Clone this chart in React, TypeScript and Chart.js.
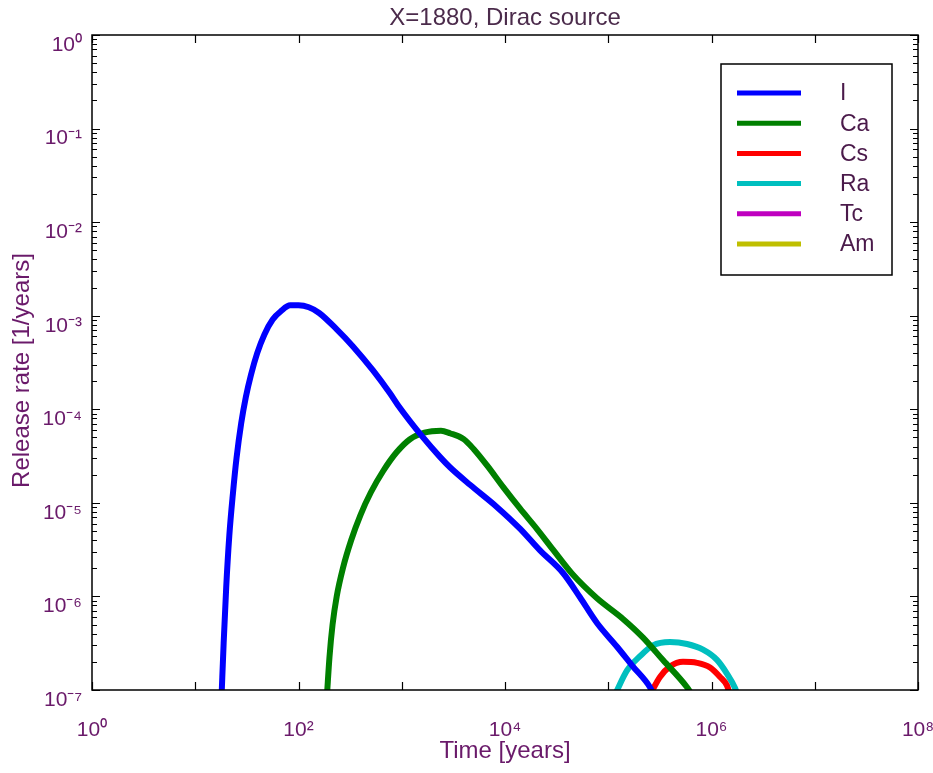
import React, { useEffect, useRef } from "react";
import { Chart, registerables } from "chart.js";

Chart.register(...registerables);

const chartTitle = "X=1880, Dirac source";
const xAxisTitle = "Time [years]";
const yAxisTitle = "Release rate [1/years]";

const seriesLabels = ["I", "Ca", "Cs", "Ra", "Tc", "Am"];
const seriesColors = ["#0000FF", "#008000", "#FF0000", "#00BFBF", "#BF00BF", "#BFBF00"];

// I
const iTime = [18.0, 18.84, 19.95, 21.38, 23.17, 25.12, 27.86, 30.9, 34.67, 39.81, 46.77, 56.23, 67.61, 83.18, 100, 125.9, 158.5, 236, 337, 527, 769, 912, 1607, 2344, 2931, 4581, 8375, 13960, 21830, 36480, 53210, 77800, 121600, 173800, 253500, 275000];
const iRate = [8.9e-8, 3.16e-7, 1.26e-6, 4.47e-6, 1.26e-5, 3.02e-5, 7.08e-5, 1.35e-4, 2.34e-4, 3.98e-4, 6.31e-4, 9.12e-4, 1.12e-3, 1.29e-3, 1.29e-3, 1.23e-3, 1.07e-3, 7.1e-4, 4.7e-4, 2.6e-4, 1.48e-4, 1.12e-4, 5.0e-5, 3.1e-5, 2.4e-5, 1.56e-5, 9.0e-6, 5.3e-6, 3.1e-6, 1.78e-6, 9.8e-7, 5.2e-7, 2.9e-7, 1.78e-7, 1.07e-7, 8.9e-8];

// Ca
const caTime = [188.8, 199.5, 213.8, 234.4, 269.2, 323.6, 398.1, 501.2, 660.7, 891.3, 1202, 1660, 2399, 2931, 3981, 5012, 6699, 9572, 13960, 20420, 29170, 45600, 77800, 139000, 217300, 338800, 579400, 647100];
const caRate = [8.9e-8, 2.24e-7, 5.01e-7, 1.0e-6, 2.0e-6, 3.98e-6, 7.41e-6, 1.29e-5, 2.19e-5, 3.47e-5, 4.79e-5, 5.62e-5, 5.89e-5, 5.55e-5, 4.8e-5, 3.72e-5, 2.51e-5, 1.48e-5, 8.71e-6, 5.25e-6, 3.16e-6, 1.7e-6, 9.55e-7, 5.75e-7, 3.63e-7, 2.09e-7, 1.07e-7, 8.9e-8];

// Cs
const csTime = [253500, 317000, 396300, 529700, 724400, 968300, 1210000, 1410000, 1510000];
const csRate = [8.9e-8, 1.38e-7, 1.78e-7, 2.0e-7, 1.95e-7, 1.74e-7, 1.38e-7, 1.12e-7, 8.9e-8];

// Ra
const raTime = [116100, 152100, 203200, 271000, 396300, 579400, 827900, 1130000, 1410000, 1690000, 1780000];
const raRate = [8.9e-8, 1.62e-7, 2.3e-7, 3.0e-7, 3.25e-7, 3.1e-7, 2.7e-7, 2.1e-7, 1.5e-7, 1.05e-7, 8.9e-8];

// Tc, Am: no visible values above 1e-7
const tcTime: number[] = [];
const tcRate: number[] = [];
const amTime: number[] = [];
const amRate: number[] = [];

const xTickValues = [1, 10, 100, 1e3, 1e4, 1e5, 1e6, 1e7, 1e8];
const xTickLabels = ["10⁰", "", "10²", "", "10⁴", "", "10⁶", "", "10⁸"];
const yTickValues = [1e-7, 1e-6, 1e-5, 1e-4, 1e-3, 1e-2, 1e-1, 1];
const yTickLabels = ["10⁻⁷", "10⁻⁶", "10⁻⁵", "10⁻⁴", "10⁻³", "10⁻²", "10⁻¹", "10⁰"];

const FONT = "'Liberation Sans', Arial, Helvetica, sans-serif";
const TEXT_COLOR = "#6a1a6a";

const toPoints = (xs: number[], ys: number[]) => xs.map((x, i) => ({ x, y: ys[i] }));

const frameTicksPlugin = {
  id: "frameTicks",
  afterDatasetsDraw(chart: any) {
    const { ctx, chartArea, scales } = chart;
    const { left, right, top, bottom } = chartArea;
    const xs = scales.x;
    const ys = scales.y;
    ctx.save();
    ctx.strokeStyle = "#000";
    ctx.lineWidth = 1.5;
    ctx.beginPath();
    ctx.rect(left, top, right - left, bottom - top);
    ctx.stroke();
    ctx.lineWidth = 1.2;
    ctx.beginPath();
    for (const v of xTickValues) {
      const px = Math.round(xs.getPixelForValue(v)) + 0.5;
      ctx.moveTo(px, bottom);
      ctx.lineTo(px, bottom - 8);
      ctx.moveTo(px, top);
      ctx.lineTo(px, top + 8);
    }
    for (let e = -7; e <= 0; e++) {
      const base = Math.pow(10, e);
      const py = Math.round(ys.getPixelForValue(base)) + 0.5;
      ctx.moveTo(left, py);
      ctx.lineTo(left + 8, py);
      ctx.moveTo(right, py);
      ctx.lineTo(right - 8, py);
      if (e < 0) {
        for (let k = 2; k <= 9; k++) {
          const pm = Math.round(ys.getPixelForValue(k * base)) + 0.5;
          ctx.moveTo(left, pm);
          ctx.lineTo(left + 5, pm);
          ctx.moveTo(right, pm);
          ctx.lineTo(right - 5, pm);
        }
      }
    }
    ctx.stroke();
    ctx.restore();
  },
};

const titlesPlugin = {
  id: "titles",
  afterDraw(chart: any) {
    const { ctx, chartArea } = chart;
    ctx.save();
    ctx.font = `24px ${FONT}`;
    ctx.fillStyle = "#4b2b4b";
    ctx.textAlign = "center";
    ctx.textBaseline = "middle";
    ctx.fillText(chartTitle, (chartArea.left + chartArea.right) / 2, 18);
    ctx.translate(22, (chartArea.top + chartArea.bottom) / 2 + 8);
    ctx.rotate(-Math.PI / 2);
    ctx.fillStyle = TEXT_COLOR;
    ctx.fillText(yAxisTitle, 0, 0);
    ctx.restore();
  },
};

const boxLegendPlugin = {
  id: "boxLegend",
  afterDraw(chart: any) {
    const { ctx, chartArea } = chart;
    const boxLeft = chartArea.right - 197;
    const boxTop = chartArea.top + 29;
    const boxW = 171;
    const boxH = 211;
    ctx.save();
    ctx.fillStyle = "#fff";
    ctx.fillRect(boxLeft, boxTop, boxW, boxH);
    ctx.strokeStyle = "#000";
    ctx.lineWidth = 1.5;
    ctx.strokeRect(boxLeft, boxTop, boxW, boxH);
    ctx.font = `23px ${FONT}`;
    ctx.textBaseline = "middle";
    ctx.textAlign = "left";
    chart.data.datasets.forEach((ds: any, i: number) => {
      const y = boxTop + 29 + i * 30.2;
      ctx.strokeStyle = ds.borderColor;
      ctx.lineWidth = 5;
      ctx.beginPath();
      ctx.moveTo(boxLeft + 16, y);
      ctx.lineTo(boxLeft + 80, y);
      ctx.stroke();
      ctx.fillStyle = "#4a1a4a";
      ctx.fillText(ds.label, boxLeft + 119, y + 1);
    });
    ctx.restore();
  },
};

export default function App() {
  const canvasRef = useRef<HTMLCanvasElement | null>(null);

  useEffect(() => {
    document.body.style.margin = "0";
    const canvas = canvasRef.current;
    if (!canvas) return;
    const seriesTimes = [iTime, caTime, csTime, raTime, tcTime, amTime];
    const seriesRates = [iRate, caRate, csRate, raRate, tcRate, amRate];
    const chart = new Chart(canvas, {
      type: "line",
      data: {
        datasets: seriesLabels.map((label, i) => ({
          label,
          data: toPoints(seriesTimes[i], seriesRates[i]),
          borderColor: seriesColors[i],
          backgroundColor: seriesColors[i],
          borderWidth: 6,
          pointRadius: 0,
          fill: false,
          tension: 0,
          cubicInterpolationMode: "monotone" as const,
          clip: 0,
        })),
      },
      options: {
        responsive: false,
        animation: false,
        devicePixelRatio: 1,
        layout: { padding: { left: 0, right: 15, top: 35, bottom: 0 } },
        plugins: {
          legend: { display: false },
          tooltip: { enabled: false },
          title: { display: false },
        },
        scales: {
          x: {
            type: "logarithmic",
            min: 1,
            max: 1e8,
            grid: { display: false, drawTicks: false },
            border: { display: false },
            afterBuildTicks: (scale: any) => {
              scale.ticks = xTickValues.map((v) => ({ value: v }));
            },
            afterFit: (scale: any) => {
              scale.height = 83;
              scale.paddingLeft = 0;
              scale.paddingRight = 0;
            },
            ticks: {
              autoSkip: false,
              maxRotation: 0,
              padding: 28,
              color: TEXT_COLOR,
              font: { family: FONT, size: 21 },
              callback: (_v: any, index: number) => xTickLabels[index],
            },
            title: {
              display: true,
              text: xAxisTitle,
              color: TEXT_COLOR,
              font: { family: FONT, size: 24 },
              padding: { top: 0, bottom: 7 },
            },
          },
          y: {
            type: "logarithmic",
            min: 1e-7,
            max: 1,
            grid: { display: false, drawTicks: false },
            border: { display: false },
            afterBuildTicks: (scale: any) => {
              scale.ticks = yTickValues.map((v) => ({ value: v }));
            },
            afterFit: (scale: any) => {
              scale.width = 92;
              scale.paddingTop = 0;
              scale.paddingBottom = 0;
            },
            ticks: {
              autoSkip: false,
              padding: 10,
              labelOffset: 10,
              color: TEXT_COLOR,
              font: { family: FONT, size: 21 },
              callback: (_v: any, index: number) => yTickLabels[index],
            },
          },
        },
      },
      plugins: [frameTicksPlugin, titlesPlugin, boxLegendPlugin],
    });
    return () => chart.destroy();
  }, []);

  return (
    <div style={{ width: 933, height: 773, background: "#fff" }}>
      <canvas ref={canvasRef} width={933} height={773} style={{ display: "block" }} />
    </div>
  );
}
